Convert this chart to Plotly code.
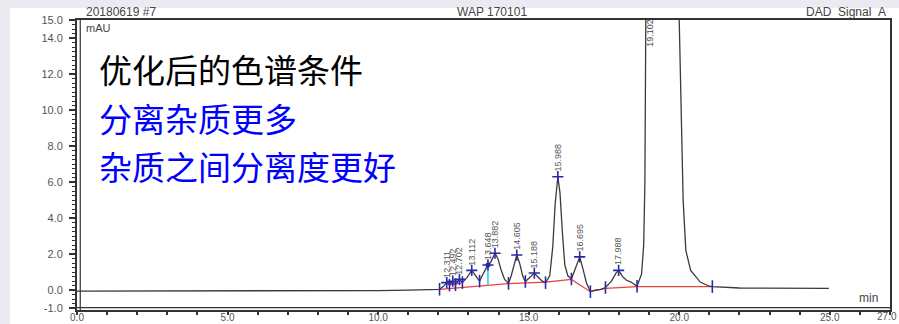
import plotly.graph_objects as go

# chromatogram trace (time in min, signal in mAU)
trace_t = [0, 2, 4, 6, 8, 10, 11, 11.6, 12.04, 12.16, 12.28, 12.37, 12.48, 12.57, 12.70, 12.8,
           12.95, 13.11, 13.24, 13.37, 13.5, 13.648, 13.74, 13.882, 13.98, 14.08, 14.2, 14.33,
           14.42, 14.52, 14.605, 14.7, 14.8, 14.89, 15.05, 15.188, 15.3, 15.45, 15.56, 15.7,
           15.8, 15.88, 15.97, 16.04, 16.12, 16.2, 16.3, 16.42, 16.55, 16.695, 16.8, 16.92,
           17.05, 17.2, 17.4, 17.55, 17.75, 17.9, 17.988, 18.12, 18.25, 18.4, 18.6, 18.75,
           18.82, 18.86, 18.89, 18.95, 19.102, 19.6, 19.9, 20.0, 20.13, 20.22, 20.38, 20.7,
           21.0, 21.1, 22, 23, 24, 24.97]
trace_y = [-0.05, -0.05, -0.04, -0.03, -0.03, -0.02, 0.0, 0.02, 0.05, 0.2, 0.42, 0.28, 0.5, 0.3, 0.6, 0.42,
           0.7, 1.1, 0.8, 0.5, 0.95, 1.4, 1.55, 2.05, 1.75, 1.15, 0.6, 0.38,
           0.8, 1.5, 1.95, 1.5, 0.8, 0.48, 0.75, 0.95, 0.75, 0.5, 0.42, 0.8,
           2.4, 4.8, 6.3, 5.4, 3.2, 1.4, 0.8, 0.62, 1.2, 1.85, 1.2, 0.4,
           -0.08, 0.0, 0.05, 0.15, 0.5, 0.95, 1.1, 0.75, 0.55, 0.45, 0.22, 0.9,
           2.5, 6.0, 15.0, 40.0, 180.0, 80.0, 25.0, 15.0, 5.0, 2.2, 1.1, 0.45,
           0.22, 0.2, 0.12, 0.1, 0.1, 0.1]

# integration baseline (red)
base_t = [12.04, 14.33, 15.56, 16.42, 17.05, 17.55, 18.6, 21.1]
base_y = [0.05, 0.36, 0.45, 0.6, -0.08, 0.1, 0.2, 0.2]

# peak boundary markers
bound_t = [12.04, 12.37, 12.57, 12.8, 13.37, 14.33, 14.89, 15.56, 16.42, 17.05, 17.55, 18.6, 21.1]
bound_y = [0.05, 0.28, 0.3, 0.42, 0.5, 0.38, 0.48, 0.42, 0.62, -0.08, 0.15, 0.22, 0.2]

# labelled peaks
peak_rt = [12.311, 12.492, 12.702, 13.112, 13.648, 13.882, 14.605, 15.188, 15.988, 16.695, 17.988]
peak_h = [0.42, 0.5, 0.6, 1.1, 1.4, 2.05, 1.95, 0.95, 6.3, 1.85, 1.1]
peak_x = [12.28, 12.48, 12.70, 13.11, 13.648, 13.882, 14.605, 15.188, 15.97, 16.695, 17.988]
main_rt = 19.102

y_ticks = [-1, 0, 2, 4, 6, 8, 10, 12, 14, 15]
x_ticks = [0, 5, 10, 15, 20, 25]
x_end_label = "27.0"

fig = go.Figure()
fig.add_trace(go.Scatter(x=base_t, y=base_y, mode="lines",
                         line=dict(color="#e8413a", width=1.2), hoverinfo="skip"))
fig.add_trace(go.Scatter(x=[12.37, 12.8], y=[0.28, 0.42], mode="lines",
                         line=dict(color="#d040d0", width=1.2), hoverinfo="skip"))
fig.add_trace(go.Scatter(x=[13.648, 13.648], y=[0.3, 1.4], mode="lines",
                         line=dict(color="#20d0d8", width=1.5), hoverinfo="skip"))
fig.add_trace(go.Scatter(x=trace_t, y=trace_y, mode="lines",
                         line=dict(color="#3a3a3a", width=1.3), hoverinfo="skip"))
fig.add_trace(go.Scatter(x=bound_t, y=bound_y, mode="markers",
                         marker=dict(symbol="line-ns", size=9,
                                     line=dict(color="#2a2aa8", width=1.6)), hoverinfo="skip"))
fig.add_trace(go.Scatter(x=peak_x, y=peak_h, mode="markers",
                         marker=dict(symbol="cross-thin", size=8,
                                     line=dict(color="#2a2aa8", width=1.6)), hoverinfo="skip"))
fig.add_trace(go.Scatter(x=[13.648], y=[1.4], mode="markers",
                         marker=dict(symbol="circle", size=5, color="#2a2aa8"), hoverinfo="skip"))

annotations = []
for rt, x, h in zip(peak_rt, peak_x, peak_h):
    annotations.append(dict(x=x, y=h, xref="x", yref="y", text=f"{rt:.3f}", showarrow=False,
                            textangle=-90, yanchor="bottom", xanchor="center", yshift=3,
                            font=dict(family="Liberation Sans", size=9, color="#555")))
annotations.append(dict(x=main_rt - 0.1, y=14.3, xref="x", yref="y", text=f"{main_rt:.3f}",
                        showarrow=False, textangle=-90, xanchor="center", yanchor="middle",
                        font=dict(family="Liberation Sans", size=9, color="#444")))

hdr = dict(family="Liberation Sans", size=12, color="#444")
annotations += [
    dict(x=0.009, y=1.027, xref="paper", yref="paper", text="20180619 #7", showarrow=False,
         xanchor="left", yanchor="middle", font=hdr),
    dict(x=0.5105, y=1.027, xref="paper", yref="paper", text="WAP 170101", showarrow=False,
         xanchor="center", yanchor="middle", font=hdr),
    dict(x=0.9975, y=1.027, xref="paper", yref="paper", text="DAD_Signal_A", showarrow=False,
         xanchor="right", yanchor="middle", font=hdr),
    dict(x=0.0086, y=0.972, xref="paper", yref="paper", text="mAU", showarrow=False,
         xanchor="left", yanchor="middle", font=dict(family="Liberation Sans", size=11, color="#444")),
    dict(x=0.974, y=0.041, xref="paper", yref="paper", text="min", showarrow=False,
         xanchor="center", yanchor="middle", font=dict(family="Liberation Sans", size=12, color="#444")),
    dict(x=1.0105, y=-0.024, xref="paper", yref="paper", text=x_end_label, showarrow=False,
         xanchor="right", yanchor="middle", font=dict(family="Liberation Sans", size=10, color="#555")),
]
cjk = "Noto Sans CJK SC"
note_lines = ["优化后的色谱条件", "分离杂质更多", "杂质之间分离度更好"]
note_colors = ["#000000", "#0000ff", "#0000ff"]
note_y = [0.8310, 0.6620, 0.4966]
for txt, col, yy in zip(note_lines, note_colors, note_y):
    annotations.append(dict(x=0.0246, y=yy, xref="paper", yref="paper", text=txt,
                            showarrow=False, xanchor="left", yanchor="middle",
                            font=dict(family=cjk, size=33, color=col)))

shapes = [
    dict(type="rect", xref="paper", yref="paper", x0=-0.0824, x1=1.02, y0=-0.06, y1=1.041,
         fillcolor="white", line=dict(width=0), layer="below"),
    dict(type="line", xref="paper", yref="paper", x0=0.004, x1=0.004, y0=0, y1=1,
         line=dict(color="#333", width=1.2)),
    dict(type="line", xref="paper", yref="paper", x0=0, x1=1, y0=0.008, y1=0.008,
         line=dict(color="#333", width=1.2)),
]

tickfont = dict(family="Liberation Sans", size=11, color="#555")
fig.update_layout(
    width=899, height=324,
    margin=dict(l=77, r=9, t=20, b=14),
    paper_bgcolor="#eaeaf0", plot_bgcolor="white",
    showlegend=False,
    annotations=annotations, shapes=shapes,
    xaxis=dict(range=[0, 27], tickvals=x_ticks, ticktext=[f"{v:.1f}" for v in x_ticks],
               ticks="outside", ticklen=3, tickwidth=1.5, tickcolor="#333",
               minor=dict(dtick=1, tick0=0, ticks="outside", ticklen=3, tickwidth=1.5, tickcolor="#333"),
               showgrid=False, zeroline=False, showline=True, mirror=True, automargin=False,
               linecolor="#333", linewidth=2, tickfont=dict(family="Liberation Sans", size=10, color="#555"),
               ticklabelstandoff=-6, fixedrange=True),
    yaxis=dict(range=[-1.1, 15.0], tickvals=y_ticks, ticktext=[f"{v:.1f}" for v in y_ticks],
               ticks="outside", ticklen=6, tickwidth=1.5, tickcolor="#333",
               minor=dict(dtick=0.25, tick0=0, ticks="outside", ticklen=3, tickwidth=1, tickcolor="#333"),
               showgrid=False, zeroline=False, showline=True, mirror=True, automargin=False,
               linecolor="#333", linewidth=2, tickfont=tickfont, ticklabelstandoff=4,
               fixedrange=True),
)

fig.write_html("out.html")
